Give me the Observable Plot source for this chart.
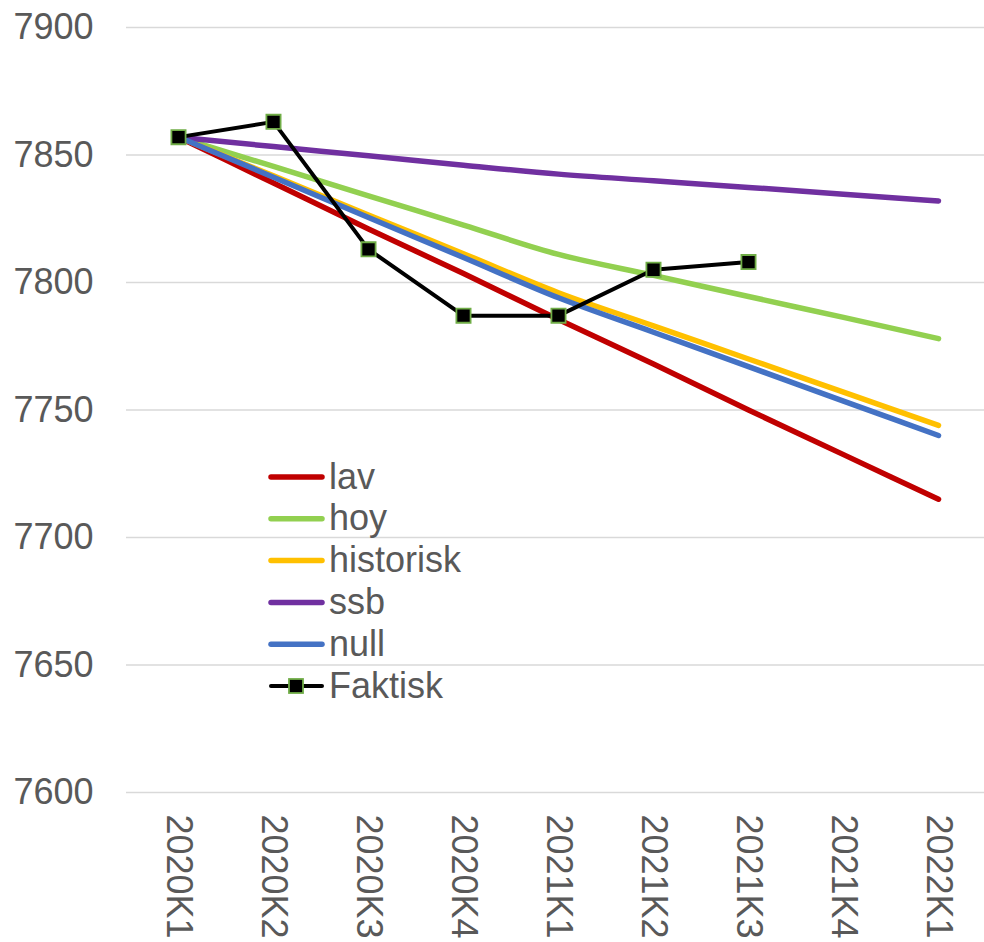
<!DOCTYPE html>
<html>
<head>
<meta charset="utf-8">
<script src="https://cdn.jsdelivr.net/npm/d3@7"></script>
<script src="https://cdn.jsdelivr.net/npm/@observablehq/plot@0.6"></script>
<style>
  html, body { margin: 0; padding: 0; background: #fff; }
  #chart { width: 984px; height: 942px; }
</style>
</head>
<body>
<div id="chart"></div>
<script>
// ---- Data ----
const quarters = ["2020K1","2020K2","2020K3","2020K4","2021K1","2021K2","2021K3","2021K4","2022K1"];
const lav       = [7857, 7839, 7821, 7803.5, 7785.5, 7768, 7750, 7732.5, 7715];
const hoy       = [7857, 7845.5, 7834, 7822.5, 7811, 7802.8, 7794.5, 7786.3, 7778];
const historisk = [7857, 7841.8, 7826.5, 7811.3, 7796, 7783, 7770, 7757, 7744];
const ssb       = [7857, 7853.3, 7849.7, 7846, 7842.5, 7839.9, 7837.3, 7834.6, 7832];
const nullS     = [7857, 7841.3, 7825.5, 7809.8, 7794, 7780.5, 7767, 7753.5, 7740];
const faktisk   = [7857, 7863, 7813, 7787, 7787, 7805, 7808];

const seriesNames  = ["lav", "hoy", "historisk", "ssb", "null"];
const seriesValues = [lav, hoy, historisk, ssb, nullS];
const seriesColors = ["#C00000", "#92D050", "#FFC000", "#7030A0", "#4472C4"];
const yTicks = [7600, 7650, 7700, 7750, 7800, 7850, 7900];

const rows = seriesNames.flatMap((name, i) =>
  seriesValues[i].map((v, j) => ({series: name, q: quarters[j], v})));
const fakt = faktisk.map((v, j) => ({q: quarters[j], v}));

const colorMap = Object.fromEntries(seriesNames.map((n, i) => [n, seriesColors[i]]));

const plot = Plot.plot({
  width: 984,
  height: 942,
  marginLeft: 126,
  marginRight: 0,
  marginTop: 27,
  marginBottom: 150,
  style: {fontFamily: "'Liberation Sans', Arial, sans-serif", fontSize: "36px", color: "#595959", background: "#fff"},
  x: {type: "point", domain: quarters, range: [174, 941], padding: 0},
  y: {domain: [7600, 7900]},
  marks: [
    Plot.gridY(yTicks, {stroke: "#D9D9D9", strokeOpacity: 1, strokeWidth: 1.5}),
    Plot.axisY(yTicks, {tickSize: 0, tickPadding: 33, tickFormat: d => String(d), label: null, fill: "#595959"}),
    Plot.axisX({tickSize: 0, tickPadding: 22, tickRotate: 90, label: null, fill: "#595959"}),
    ...seriesNames.map(name =>
      Plot.line(rows.filter(d => d.series === name), {
        x: "q", y: "v", stroke: colorMap[name], strokeWidth: 5.5,
        curve: "monotone-x", strokeLinecap: "round", strokeLinejoin: "round"
      })),
    Plot.line(fakt, {x: "q", y: "v", stroke: "#000", strokeWidth: 4, strokeLinejoin: "round"}),
    Plot.dot(fakt, {x: "q", y: "v", symbol: "square", r: 8, fill: "#000", stroke: "#70AD47", strokeWidth: 1.8})
  ]
});

// ---- Legend inside the plot area ----
const svg = d3.select(plot);
const lg = svg.append("g")
  .attr("font-family", "'Liberation Sans', Arial, sans-serif")
  .attr("font-size", 36)
  .attr("text-anchor", "start");
const legendNames = [...seriesNames, "Faktisk"];
const legendColors = [...seriesColors, "#000"];
legendNames.forEach((name, i) => {
  const y = 477 + i * 41.8;
  const g = lg.append("g");
  g.append("line").attr("x1", 271).attr("x2", 322).attr("y1", y).attr("y2", y)
    .attr("stroke", legendColors[i]).attr("stroke-width", name === "Faktisk" ? 4 : 5.5)
    .attr("stroke-linecap", "round");
  if (name === "Faktisk") {
    g.append("rect").attr("x", 296 - 7).attr("y", y - 7).attr("width", 14).attr("height", 14)
      .attr("fill", "#000").attr("stroke", "#70AD47").attr("stroke-width", 1.8);
  }
  g.append("text").attr("x", 329).attr("y", y).attr("dy", "0.32em")
    .attr("text-anchor", "start")
    .attr("fill", "#595959").text(name);
});

document.getElementById("chart").appendChild(plot);
</script>
</body>
</html>
